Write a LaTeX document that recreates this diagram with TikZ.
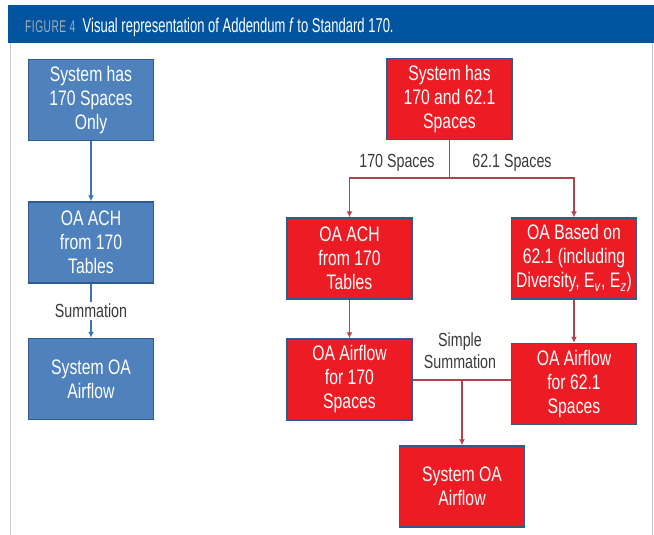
\documentclass[tikz,border=0pt]{standalone}
\usepackage{fontspec}
\setmainfont{Liberation Sans}[FakeStretch=0.75]
\newfontfamily\headfont{Liberation Sans}[FakeStretch=0.65]
\newfontfamily\fignofont{Liberation Sans}[FakeStretch=0.6, LetterSpace=3]
\usepackage{tikz}
\usetikzlibrary{arrows.meta, positioning, calc}
\definecolor{headblue}{HTML}{0054A0}
\definecolor{figgray}{HTML}{A3ABB3}
\definecolor{ashblue}{HTML}{4F81BD}
\definecolor{ashred}{HTML}{ED1C24}
\definecolor{boxedge}{HTML}{2F5A92}
\definecolor{bluelink}{HTML}{3B74B7}
\definecolor{redlink}{HTML}{B3434A}
\definecolor{labelgray}{HTML}{3A3A3A}
\tikzstyle{bluebox} = [draw=boxedge, rectangle, line width=1.5pt, fill=ashblue, text=white, align=center, inner sep=2pt, minimum height=81pt, minimum width=125pt, font=\fontsize{21}{24}\selectfont]
\tikzstyle{redbox} = [bluebox, fill=ashred]
\tikzstyle{blueline} = [draw=bluelink, line width=1.6pt]
\tikzstyle{redline} = [draw=redlink, line width=1.6pt]
\tikzstyle{sumlabel} = [text=labelgray, align=center, inner sep=1pt, font=\fontsize{19}{22}\selectfont]

\begin{document}
\begin{tikzpicture}[x=1pt, y=-1pt, >={Latex[length=6pt,width=6pt]}]
        \useasboundingbox (0,0) rectangle (654,535);
        % header bar and frame
        \fill[headblue] (8,5) rectangle (654,43);
        \draw[black!20, line width=1pt] (10,43) -- (10,535);
        \draw[blue!25!gray!40, line width=1pt] (652,43) -- (652,535);
        \node[anchor=west, inner sep=0pt, text=figgray, font=\fignofont\fontsize{17}{17}\selectfont] (fignum) at (25,27) {FIGURE 4};
        \node[right=7pt of fignum, inner sep=0pt, text=white, font=\headfont\fontsize{20}{20}\selectfont] (figtitle) {Visual representation of Addendum \textit{f} to Standard 170.};
        % 170 only
        \node[bluebox] (onlysys) at (91,100) {System has\\170 Spaces\\Only};
        \node[bluebox] (achleft) at (91,242.5) {OA ACH\\from 170\\Tables};
        \node[bluebox] (sysleft) at (91,379) {System OA\\Airflow};
        \draw[blueline, ->] (onlysys) -- (achleft);
        \draw[blueline, ->] (achleft) -- node[sumlabel, fill=white, inner sep=2pt] (sumleft) {Summation} (sysleft);
        % 170 and 62.1
        \node[redbox] (bothsys) at (449.5,99) {System has\\170 and 62.1\\Spaces};
        \node[redbox] (achright) at (349.5,258.5) {OA ACH\\from 170\\Tables};
        \node[redbox] (based) at (574,258.5) {OA Based on\\62.1 (including\\Diversity, E\textsubscript{\textit{v}}, E\textsubscript{\textit{z}})};
        \node[redbox] (air170) at (349.5,379.5) {OA Airflow\\for 170\\Spaces};
        \node[redbox] (air621) at (574,384) {OA Airflow\\for 62.1\\Spaces};
        \node[redbox] (sysright) at (462,486.5) {System OA\\Airflow};
        \coordinate (split) at (449.5,178);
        \coordinate (join) at (462,380);
        \draw[redline] (bothsys) -- (split);
        \draw[redline, ->] (split) -| (achright);
        \draw[redline, ->] (split) -| (based);
        \node[sumlabel] (lbl170) at (397,163) {170 Spaces};
        \node[sumlabel] (lbl621) at (512,163) {62.1 Spaces};
        \draw[redline, ->] (achright) -- (air170);
        \draw[redline, ->] (based) -- (air621);
        \draw[redline] (air170.east |- join) -- (air621.west |- join);
        \draw[redline, ->] (join) -- (sysright);
        \node[sumlabel] (sumright) at (460,351) {Simple\\Summation};
    \end{tikzpicture}
\end{document}
